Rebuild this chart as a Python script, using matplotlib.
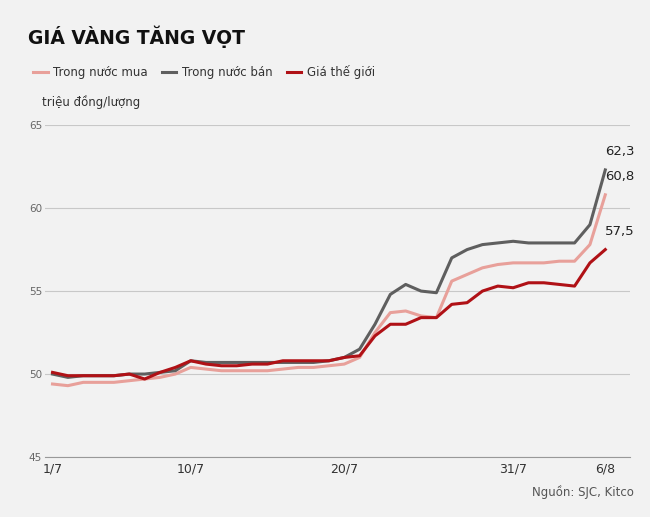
import numpy as np
import matplotlib.pyplot as plt

days = np.arange(37)
tick_pos = [0, 9, 19, 30, 36]
tick_labels = ["1/7", "10/7", "20/7", "31/7", "6/8"]

mua = [49.4, 49.3, 49.5, 49.5, 49.5, 49.6, 49.7, 49.8, 50.0, 50.4, 50.3, 50.2,
       50.2, 50.2, 50.2, 50.3, 50.4, 50.4, 50.5, 50.6, 51.0, 52.5, 53.7, 53.8,
       53.5, 53.4, 55.6, 56.0, 56.4, 56.6, 56.7, 56.7, 56.7, 56.8, 56.8, 57.8, 60.8]
ban = [50.0, 49.8, 49.9, 49.9, 49.9, 50.0, 50.0, 50.1, 50.2, 50.8, 50.7, 50.7,
       50.7, 50.7, 50.7, 50.7, 50.7, 50.7, 50.8, 51.0, 51.5, 53.0, 54.8, 55.4,
       55.0, 54.9, 57.0, 57.5, 57.8, 57.9, 58.0, 57.9, 57.9, 57.9, 57.9, 59.0, 62.3]
the_gioi = [50.1, 49.9, 49.9, 49.9, 49.9, 50.0, 49.7, 50.1, 50.4, 50.8, 50.6, 50.5,
            50.5, 50.6, 50.6, 50.8, 50.8, 50.8, 50.8, 51.0, 51.1, 52.3, 53.0, 53.0,
            53.4, 53.4, 54.2, 54.3, 55.0, 55.3, 55.2, 55.5, 55.5, 55.4, 55.3, 56.7, 57.5]

bg = "#f2f2f2"
fig = plt.figure(figsize=(6.5, 5.17), dpi=100, facecolor=bg)
ax = fig.add_axes([0.069, 0.116, 0.9, 0.642], facecolor=bg)

series = [(mua, "#e8a09a", "Trong nước mua"),
          (ban, "#5f5f5f", "Trong nước bán"),
          (the_gioi, "#b01116", "Giá thế giới")]
for vals, col, lab in series:
    ax.plot(days, vals, color=col, lw=2.2, solid_joinstyle="round", label=lab)
    ax.text(36.0, vals[-1] + 0.7, f"{vals[-1]:.1f}".replace(".", ","), fontsize=9.5,
            color="#222222", va="bottom")

ax.set_ylim(45, 65)
ax.set_xlim(-0.5, 37.6)
ax.set_yticks([45, 50, 55, 60, 65])
ax.yaxis.grid(True, color="#c8c8c8", lw=0.8)
ax.set_axisbelow(True)
ax.set_xticks(tick_pos)
ax.set_xticklabels(tick_labels, fontsize=9, color="#333333")
ax.tick_params(axis="y", length=0, labelsize=7.5, labelcolor="#666666", pad=2)
ax.tick_params(axis="x", length=0, pad=4)
for s in ["top", "right", "left"]:
    ax.spines[s].set_visible(False)
ax.spines["bottom"].set_color("#999999")

fig.text(0.043, 0.915, "GIÁ VÀNG TĂNG VỌT", fontsize=13.5, fontweight="bold", color="#111111")
fig.legend(loc="upper left", bbox_to_anchor=(0.035, 0.895), ncol=3, frameon=False,
           fontsize=8.5, handlelength=1.2, columnspacing=1.2, handletextpad=0.5,
           labelcolor="#333333")
fig.text(0.065, 0.795, "triệu đồng/lượng", fontsize=8.5, color="#333333")
fig.text(0.975, 0.04, "Nguồn: SJC, Kitco", fontsize=8.5, color="#555555", ha="right")

fig.savefig("out.png", dpi=100, facecolor=bg)
